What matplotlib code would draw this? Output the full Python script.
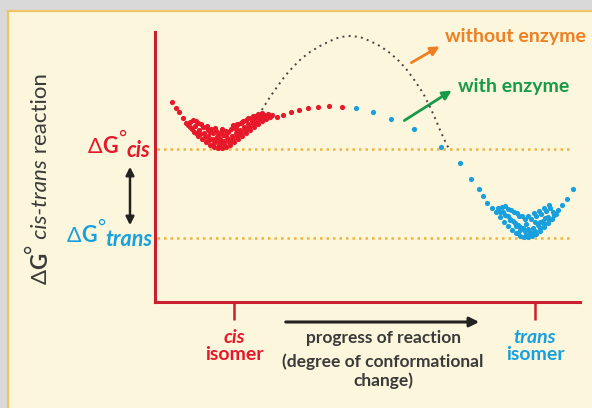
import matplotlib
matplotlib.use("Agg")
import matplotlib.pyplot as plt
from matplotlib.patches import Rectangle, FancyArrowPatch

# ---- data (progress coordinate, free energy) ----
cis_x = [172, 176, 179, 183, 186,
         190, 194, 198, 202, 206, 210, 214, 218, 222, 226, 230, 234, 238, 242, 246, 250, 254, 258, 262, 266, 270,
         190, 195, 199, 204, 208, 212, 216, 220, 224, 228, 232, 236, 240, 244, 248, 252, 256, 260, 264,
         193, 198, 203, 208, 213, 218, 223, 228, 233, 238, 243, 248, 253, 258,
         210, 220, 230, 240, 236, 246, 256, 226, 216, 268,
         188, 192, 196, 200, 205, 209, 214, 219, 224, 229, 233, 237, 241, 245, 249, 253, 257, 261, 265,
         196, 201, 206, 211, 216, 221, 226, 231, 236, 241, 246, 251, 262,
         207, 215, 222, 233, 242, 237, 255,
         272, 277, 283, 291, 299, 308, 318, 329, 342]
cis_g = [306, 300, 296, 290, 285,
         281, 276, 272, 269, 266, 263, 261, 260, 260, 261, 263, 266, 269, 272, 275, 278, 281, 284, 287, 289, 291,
         286, 282, 278, 275, 272, 269, 267, 266, 267, 269, 272, 275, 278, 281, 284, 287, 289, 291, 293,
         288, 285, 281, 278, 275, 273, 273, 276, 281, 284, 287, 290, 292, 294,
         276, 269, 267, 275, 279, 279, 285, 272, 270, 294,
         283, 279, 275, 274, 271, 268, 265, 263, 264, 266, 269, 272, 275, 278, 281, 284, 287, 289, 291,
         287, 284, 281, 279, 277, 276, 277, 279, 282, 285, 288, 290, 295,
         282, 280, 279, 283, 286, 284, 292,
         293, 291, 293, 296, 298, 300, 301, 302, 301]

trans_x = [356, 373, 391, 414, 441, 460, 471, 479, 483, 487, 492,
           496, 500, 504, 508, 512, 516, 520, 524, 528, 532, 536, 540, 544, 548, 552, 556,
           498, 503, 508, 513, 518, 523, 528, 533, 538, 543, 548, 553,
           502, 508, 514, 519, 525, 531, 536, 541, 546, 550,
           510, 520, 530, 540, 526, 516, 535, 545,
           500, 505, 510, 515, 520, 525, 530, 535, 540, 544, 549, 554,
           505, 511, 517, 522, 528, 534, 539, 544, 549, 518, 526, 534,
           558, 562, 567, 573]
trans_g = [300, 296, 289, 279, 261, 245, 229, 219, 212, 205, 200,
           196, 191, 186, 182, 178, 175, 172, 171, 171, 172, 174, 177, 181, 185, 189, 194,
           200, 196, 192, 187, 183, 180, 179, 180, 183, 187, 191, 196,
           201, 199, 196, 192, 189, 189, 192, 194, 197, 200,
           188, 178, 176, 186, 184, 182, 186, 190,
           196, 193, 189, 185, 181, 177, 175, 177, 180, 184, 188, 193,
           202, 198, 195, 192, 192, 195, 197, 200, 203, 175, 173, 174,
           198, 203, 209, 219]

uncat_x = [256, 258, 263, 270, 277, 285, 293, 301, 310, 320, 330, 340, 350,
           360, 370, 380, 390, 399, 407, 415, 423, 430, 435, 440, 445, 449]
uncat_g = [287, 291, 300, 311, 321, 332, 341, 349, 356, 362, 367, 371, 372,
           371, 367, 362, 355, 347, 338, 327, 315, 301, 290, 278, 267, 259]

dg_cis = 259
dg_trans = 170
isomer_ticks = [234, 535]

# ---- colours ----
RED = "#e6182a"
BLUE = "#18a0de"
AXRED = "#cc1f2d"
ORANGE = "#ef7f22"
GREEN = "#179a4a"
DARK = "#3a3a3a"
GUIDE = "#f2b33d"
CREAM = "#fbf6dc"
FONT = ["Lato", "DejaVu Sans"]

W, H = 592, 408
fig = plt.figure(figsize=(W / 100, H / 100), dpi=100)
fig.patch.set_facecolor("#d9d9d9")

# canvas in pixel units for the panel, labels and arrows
bg = fig.add_axes([0, 0, 1, 1])
bg.set_xlim(0, W)
bg.set_ylim(H, 0)
bg.axis("off")
bg.add_patch(Rectangle((7.5, 10.5), 700, 500, facecolor=CREAM,
                       edgecolor="#f0c466", lw=1.6, zorder=0))

# energy diagram axes
x0, x1, ytop, ybot = 155, 580, 32, 302
ax = fig.add_axes([x0 / W, (H - ybot) / H, (x1 - x0) / W, (ybot - ytop) / H])
ax.patch.set_visible(False)
ax.set_xlim(x0, x1)
ax.set_ylim(H - ybot, H - ytop)
for side in ("top", "right"):
    ax.spines[side].set_visible(False)
for side in ("left", "bottom"):
    ax.spines[side].set_color(AXRED)
    ax.spines[side].set_linewidth(2.2)
ax.set_yticks([])
ax.set_xticks(isomer_ticks)
ax.set_xticklabels([])
ax.tick_params(axis="x", length=13, width=1.8, color=AXRED, direction="out")

ax.hlines([dg_cis, dg_trans], 157, 570, colors=GUIDE, lw=1.8,
          linestyles=[(0, (1, 1.6))], zorder=1)
ax.plot(uncat_x, uncat_g, color="#444444", lw=1.4, ls=(0, (1, 2.2)), zorder=2)
ax.scatter(cis_x, cis_g, s=14, color=RED, lw=0, zorder=3)
ax.scatter(trans_x, trans_g, s=14, color=BLUE, lw=0, zorder=3)

renderer = fig.canvas.get_renderer()


def rich_row(x, y, pieces, size, color):
    for s, weight, style, dy, scale in pieces:
        t = bg.text(x, y + dy, s, fontsize=size * scale, fontweight=weight,
                    fontstyle=style, color=color, family=FONT,
                    ha="left", va="baseline")
        x += t.get_window_extent(renderer).width


def rich_col(x, y, pieces, size, color):
    for s, weight, style, dx, scale in pieces:
        t = bg.text(x + dx, y, s, fontsize=size * scale, fontweight=weight,
                    fontstyle=style, color=color, family=FONT, rotation=90,
                    rotation_mode="anchor", ha="left", va="baseline")
        y -= t.get_window_extent(renderer).height


# y-axis title
rich_col(47, 284, [("Δ", "normal", "normal", 0, 1),
                   ("G", "bold", "normal", 0, 1),
                   ("°", "normal", "normal", -7, 1),
                   (" cis-trans", "normal", "italic", 0, 1),
                   (" reaction", "normal", "normal", 0, 1)], 16, DARK)

# free energy labels
rich_row(88, 153, [("Δ", "normal", "normal", 0, 1),
                   ("G", "bold", "normal", 0, 1),
                   ("°", "normal", "normal", -9, 0.9),
                   ("cis", "bold", "italic", 4, 1)], 15.5, RED)
rich_row(67, 242, [("Δ", "normal", "normal", 0, 1),
                   ("G", "bold", "normal", 0, 1),
                   ("°", "normal", "normal", -9, 0.9),
                   ("trans", "bold", "italic", 4, 1)], 15.5, BLUE)

bg.add_patch(FancyArrowPatch((130, 164), (130, 228), arrowstyle="<|-|>",
                             mutation_scale=12, lw=1.8, color="#222222"))

# isomer labels under the ticks
for xc, word, col in [(234, "cis", RED), (535, "trans", BLUE)]:
    bg.text(xc, 343, word, fontsize=14, fontweight="bold", fontstyle="italic",
            color=col, family=FONT, ha="center", va="baseline")
    bg.text(xc, 360, "isomer", fontsize=14, fontweight="bold",
            color=col, family=FONT, ha="center", va="baseline")

# reaction progress arrow and caption
bg.add_patch(FancyArrowPatch((283, 322), (482, 322), arrowstyle="-|>",
                             mutation_scale=14, lw=2.2, color="#222222"))
for yy, line in [(343, "progress of reaction"),
                 (367, "(degree of conformational"),
                 (386, "change)")]:
    bg.text(383, yy, line, fontsize=12.5, fontweight="bold", color=DARK,
            family=FONT, ha="center", va="baseline")

# pathway callouts
bg.add_patch(FancyArrowPatch((409, 64), (442, 45), arrowstyle="-|>",
                             mutation_scale=13, lw=2, color=ORANGE))
bg.text(445, 42, "without enzyme", fontsize=14, fontweight="bold",
        color=ORANGE, family=FONT, ha="left", va="baseline")
bg.add_patch(FancyArrowPatch((402, 122), (454, 89), arrowstyle="-|>",
                             mutation_scale=13, lw=2, color=GREEN))
bg.text(458, 92, "with enzyme", fontsize=14, fontweight="bold",
        color=GREEN, family=FONT, ha="left", va="baseline")

fig.savefig("out.png", dpi=100, facecolor=fig.get_facecolor())
